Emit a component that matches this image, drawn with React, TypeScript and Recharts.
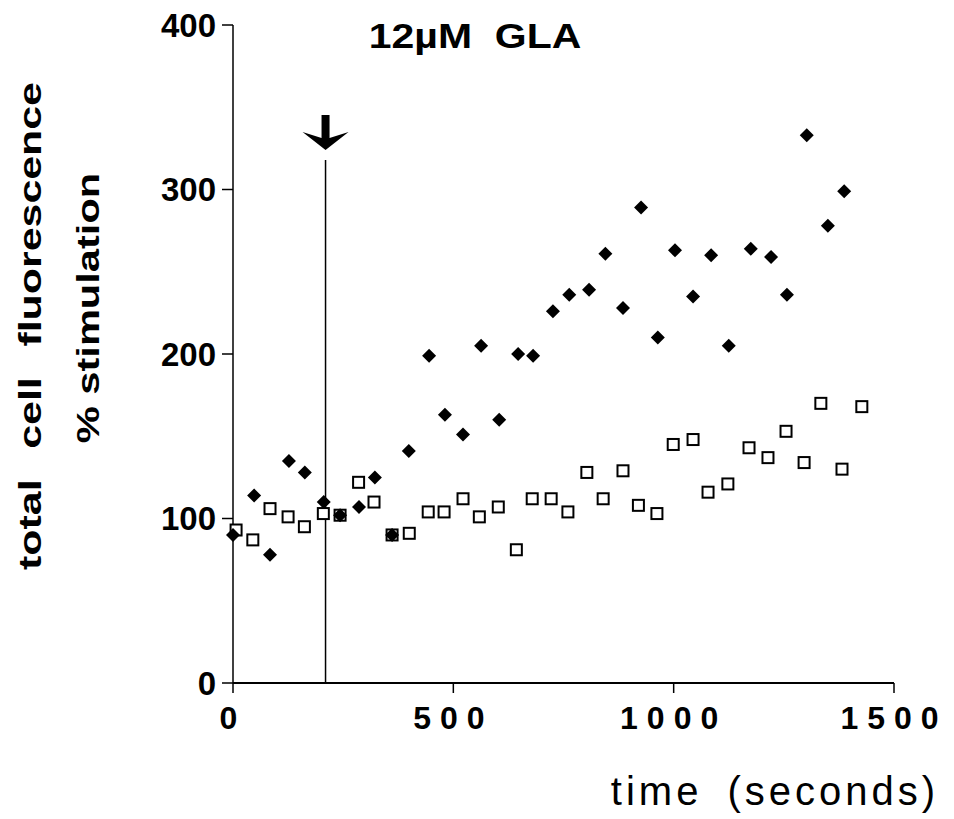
import React from 'react';
import { ScatterChart, Scatter, XAxis, YAxis, ReferenceLine, ReferenceDot } from 'recharts';

// GLA-treated cells (filled diamonds)
const glaTimes = [0, 48, 84, 127, 163, 206, 243, 286, 322, 361, 399, 445, 481, 522, 563, 604, 647, 681, 726, 763, 808, 845, 885, 926, 964, 1003, 1044, 1085, 1125, 1175, 1221, 1257, 1302, 1350, 1387];
const glaValues = [90, 114, 78, 135, 128, 110, 102, 107, 125, 90, 141, 199, 163, 151, 205, 160, 200, 199, 226, 236, 239, 261, 228, 289, 210, 263, 235, 260, 205, 264, 259, 236, 333, 278, 299];

// control cells (open squares)
const ctrlTimes = [7, 45, 84, 125, 162, 205, 243, 285, 320, 361, 400, 443, 479, 522, 559, 602, 643, 679, 722, 760, 803, 840, 885, 920, 962, 999, 1044, 1078, 1123, 1171, 1214, 1255, 1296, 1334, 1382, 1427];
const ctrlValues = [93, 87, 106, 101, 95, 103, 102, 122, 110, 90, 91, 104, 104, 112, 101, 107, 81, 112, 112, 104, 128, 112, 129, 108, 103, 145, 148, 116, 121, 143, 137, 153, 134, 170, 130, 168];

const xTicks = [0, 500, 1000, 1500];
const yTicks = [0, 100, 200, 300, 400];

// addition time marker
const addTime = 210;
const markerTop = 318;
const arrowTip = 324;

const glaData = glaTimes.map((t, i) => ({ t, v: glaValues[i] }));
const ctrlData = ctrlTimes.map((t, i) => ({ t, v: ctrlValues[i] }));

const font = '"Liberation Sans", Arial, sans-serif';

const Diamond = (p: any) => {
  const { cx, cy } = p;
  const r = 7;
  return <path d={`M${cx},${cy - r} L${cx + r},${cy} L${cx},${cy + r} L${cx - r},${cy} Z`} fill="#000" />;
};

const Square = (p: any) => {
  const { cx, cy } = p;
  const s = 5.5;
  return <rect x={cx - s} y={cy - s} width={s * 2} height={s * 2} fill="#fff" stroke="#000" strokeWidth={2} />;
};

const Arrow = (p: any) => {
  const { cx, cy } = p;
  const d = `M${cx - 23},${cy - 18} L${cx - 4},${cy - 12} L${cx - 4},${cy - 35} L${cx + 4},${cy - 35} L${cx + 4},${cy - 12} L${cx + 23},${cy - 18} L${cx},${cy} Z`;
  return <path d={d} fill="#000" />;
};

export default function App() {
  return (
    <div style={{ position: 'absolute', left: 0, top: 0, width: 954, height: 819, background: '#fff', fontFamily: font }}>
      <ScatterChart width={954} height={819} margin={{ top: 25, right: 60, left: 173, bottom: 96 }}>
        <XAxis
          type="number"
          dataKey="t"
          domain={[0, 1500]}
          ticks={xTicks}
          height={40}
          axisLine={{ stroke: '#000', strokeWidth: 2 }}
          tickLine={{ stroke: '#000', strokeWidth: 1.5 }}
          tickSize={10}
          tickMargin={13}
          tick={{ fill: '#000', fontSize: 32, fontFamily: font, fontWeight: 'bold', letterSpacing: 9 }}
        />
        <YAxis
          type="number"
          dataKey="v"
          domain={[0, 400]}
          ticks={yTicks}
          width={60}
          axisLine={{ stroke: '#000', strokeWidth: 1.5 }}
          tickLine={{ stroke: '#000', strokeWidth: 1.5 }}
          tickSize={11}
          tickMargin={6}
          tick={{ fill: '#000', fontSize: 33, fontFamily: font, fontWeight: 'bold' }}
        />
        <ReferenceLine
          segment={[{ x: addTime, y: 0 }, { x: addTime, y: markerTop }]}
          stroke="#000"
          strokeWidth={1.5}
        />
        <ReferenceDot x={addTime} y={arrowTip} shape={<Arrow />} />
        <Scatter data={ctrlData} shape={<Square />} isAnimationActive={false} />
        <Scatter data={glaData} shape={<Diamond />} isAnimationActive={false} />
      </ScatterChart>

      <div style={{ position: 'absolute', left: 475, top: 36, transform: 'translate(-50%, -50%) scaleX(1.17)', fontSize: 35, fontWeight: 'bold', color: '#000', whiteSpace: 'pre' }}>
        12µM  GLA
      </div>
      <div style={{ position: 'absolute', left: 775, top: 791, transform: 'translate(-50%, -50%)', fontSize: 40, color: '#000', letterSpacing: 4, wordSpacing: 10, whiteSpace: 'pre' }}>
        time (seconds)
      </div>
      <div style={{ position: 'absolute', left: 30, top: 326, transform: 'translate(-50%, -50%) rotate(-90deg) scaleX(1.34)', fontSize: 32, fontWeight: 'bold', color: '#000', wordSpacing: 14, whiteSpace: 'pre' }}>
        total cell fluorescence
      </div>
      <div style={{ position: 'absolute', left: 88, top: 308, transform: 'translate(-50%, -50%) rotate(-90deg) scaleX(1.3)', fontSize: 32, fontWeight: 'bold', color: '#000', whiteSpace: 'pre' }}>
        % stimulation
      </div>
    </div>
  );
}
